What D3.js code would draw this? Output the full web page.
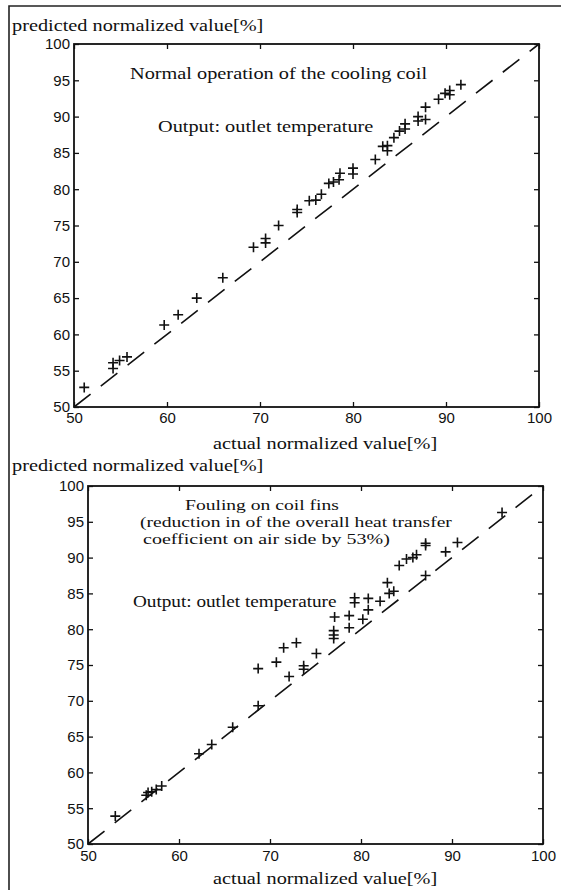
<!DOCTYPE html>
<html>
<head>
<meta charset="utf-8">
<script src="https://cdn.jsdelivr.net/npm/d3@7/dist/d3.min.js"></script>
<style>
  body { margin: 0; background: #fff; }
  svg text { fill: #111; }
  .serif { font-family: "Liberation Serif", "Times New Roman", serif; }
  .tick text { font-family: "Liberation Sans", Arial, sans-serif; font-size: 15px; fill: #111; }
  .tick line { stroke: #111; stroke-width: 1.3; }
</style>
</head>
<body>
<div id="chart"></div>
<script>
// tick labels
const xTickValues = [50, 60, 70, 80, 90, 100];
const yTickValues = [50, 55, 60, 65, 70, 75, 80, 85, 90, 95, 100];

// panel 1: normal operation (actual vs predicted, %)
const normalActual = [51.1, 54.2, 54.2, 54.9, 55.7, 59.7, 61.2, 63.2, 66.0, 69.3, 70.6, 70.6, 72.0,
  74.0, 74.0, 75.3, 76.0, 76.6, 77.4, 77.9, 78.5, 78.6, 80.0, 80.0, 82.4, 83.2, 83.7, 83.7,
  84.4, 85.0, 85.6, 85.6, 87.0, 87.0, 87.8, 87.8, 89.2, 89.9, 90.4, 90.4, 91.6];
const normalPredicted = [52.7, 55.3, 56.1, 56.4, 56.9, 61.3, 62.7, 65.0, 67.8, 72.0, 72.6, 73.2, 75.0,
  76.8, 77.2, 78.4, 78.5, 79.3, 80.8, 81.0, 81.3, 82.2, 82.1, 82.9, 84.1, 85.9, 86.0, 85.3,
  87.1, 88.0, 88.3, 89.0, 89.4, 90.0, 89.6, 91.3, 92.4, 93.2, 93.6, 93.0, 94.4];

// panel 2: fouling on coil fins
const foulingActual = [53.0, 56.4, 56.6, 57.0, 57.5, 58.1, 62.2, 63.6, 65.9, 68.7, 68.7, 70.7, 71.5,
  72.1, 72.9, 73.7, 73.7, 75.1, 77.0, 77.0, 77.0, 77.1, 78.7, 78.7, 79.3, 79.3, 80.2, 80.8,
  80.8, 82.1, 82.9, 83.1, 83.6, 84.2, 85.0, 85.7, 86.1, 87.1, 87.1, 87.1, 89.3, 90.6, 95.5];
const foulingPredicted = [53.9, 56.8, 57.2, 57.3, 57.6, 58.1, 62.6, 63.9, 66.3, 69.3, 74.5, 75.4, 77.4,
  73.4, 78.1, 74.9, 74.4, 76.6, 78.7, 79.2, 79.8, 81.7, 80.2, 81.9, 83.7, 84.4, 81.4, 82.7,
  84.3, 83.9, 86.5, 85.0, 85.3, 88.9, 89.8, 90.0, 90.4, 91.7, 92.0, 87.5, 90.8, 92.1, 96.3];

const yTitle = 'predicted normalized value[%]';
const xTitle = 'actual normalized value[%]';
const normalNotes = ['Normal operation of the cooling coil', 'Output: outlet temperature'];
const foulingNotes = ['Fouling on coil fins', '(reduction in of the overall heat transfer',
  'coefficient on air side by 53%)', 'Output: outlet temperature'];

const W = 565, H = 890;
const svg = d3.select('#chart').append('svg')
  .attr('width', W).attr('height', H)
  .attr('viewBox', '0 0 ' + W + ' ' + H);

// scanned figure frame
svg.append('path')
  .attr('d', 'M9,890V6H561')
  .attr('fill', 'none').attr('stroke', '#222').attr('stroke-width', 1.6);

// the scan is wider than tall, so serif text gets stretched horizontally
function stretchText(parent, str, x, y, size, sx) {
  return parent.append('text')
    .attr('class', 'serif')
    .attr('transform', 'translate(' + x + ',' + y + ') scale(' + (sx || 1.27) + ',1)')
    .style('font-size', size + 'px')
    .text(str);
}

function drawPanel(p) {
  const x = d3.scaleLinear().domain([50, 100]).range([p.left, p.right]);
  const y = d3.scaleLinear().domain([50, 100]).range([p.bottom, p.top]);
  const g = svg.append('g');

  g.append('g').attr('transform', 'translate(0,' + p.bottom + ')')
    .call(d3.axisBottom(x).tickValues(xTickValues).tickSizeInner(-5).tickSizeOuter(0).tickPadding(p.xPad));
  g.append('g').attr('transform', 'translate(0,' + p.top + ')')
    .call(d3.axisTop(x).tickValues(xTickValues).tickSizeInner(-5).tickSizeOuter(0).tickFormat(''));
  g.append('g').attr('transform', 'translate(' + p.left + ',0)')
    .call(d3.axisLeft(y).tickValues(yTickValues).tickSizeInner(-5).tickSizeOuter(0).tickPadding(4));
  g.append('g').attr('transform', 'translate(' + p.right + ',0)')
    .call(d3.axisRight(y).tickValues(yTickValues).tickSizeInner(-5).tickSizeOuter(0).tickFormat(''));
  g.selectAll('.domain').remove();

  g.append('rect')
    .attr('x', p.left).attr('y', p.top)
    .attr('width', p.right - p.left).attr('height', p.bottom - p.top)
    .attr('fill', 'none').attr('stroke', '#111').attr('stroke-width', 1.8);

  // perfect prediction line
  g.append('line')
    .attr('x1', x(50)).attr('y1', y(50))
    .attr('x2', x(100)).attr('y2', y(100))
    .attr('stroke', '#111').attr('stroke-width', 1.6)
    .attr('stroke-dasharray', '21,13');

  const pts = p.actual.map(function(d, i) { return {x: d, y: p.predicted[i]}; });
  g.selectAll('.pt').data(pts).enter()
    .append('path')
    .attr('class', 'pt')
    .attr('transform', function(d) { return 'translate(' + x(d.x) + ',' + y(d.y) + ')'; })
    .attr('d', 'M-5,0H5M0,-5V5')
    .attr('stroke', '#111').attr('stroke-width', 1.6);

  // titles and notes
  stretchText(svg, yTitle, 12, p.headerY, 16);
  stretchText(svg, xTitle, 213, p.xTitleY, 16);
  p.notes.forEach(function(n) { stretchText(svg, n.text, n.x, n.y, n.size || 16, n.sx); });
}

drawPanel({
  left: 74, right: 539, top: 44, bottom: 407, xPad: 5,
  headerY: 31, xTitleY: 449,
  actual: normalActual, predicted: normalPredicted,
  notes: [
    {text: normalNotes[0], x: 130, y: 79},
    {text: normalNotes[1], x: 158, y: 132}
  ]
});

drawPanel({
  left: 88, right: 543, top: 486, bottom: 844, xPad: 6,
  headerY: 471, xTitleY: 884,
  actual: foulingActual, predicted: foulingPredicted,
  notes: [
    {text: foulingNotes[0], x: 185, y: 510, size: 14.5, sx: 1.35},
    {text: foulingNotes[1], x: 140, y: 527, size: 14.5, sx: 1.35},
    {text: foulingNotes[2], x: 143, y: 544, size: 14.5, sx: 1.38},
    {text: foulingNotes[3], x: 133, y: 607, sx: 1.2}
  ]
});
</script>
</body>
</html>
